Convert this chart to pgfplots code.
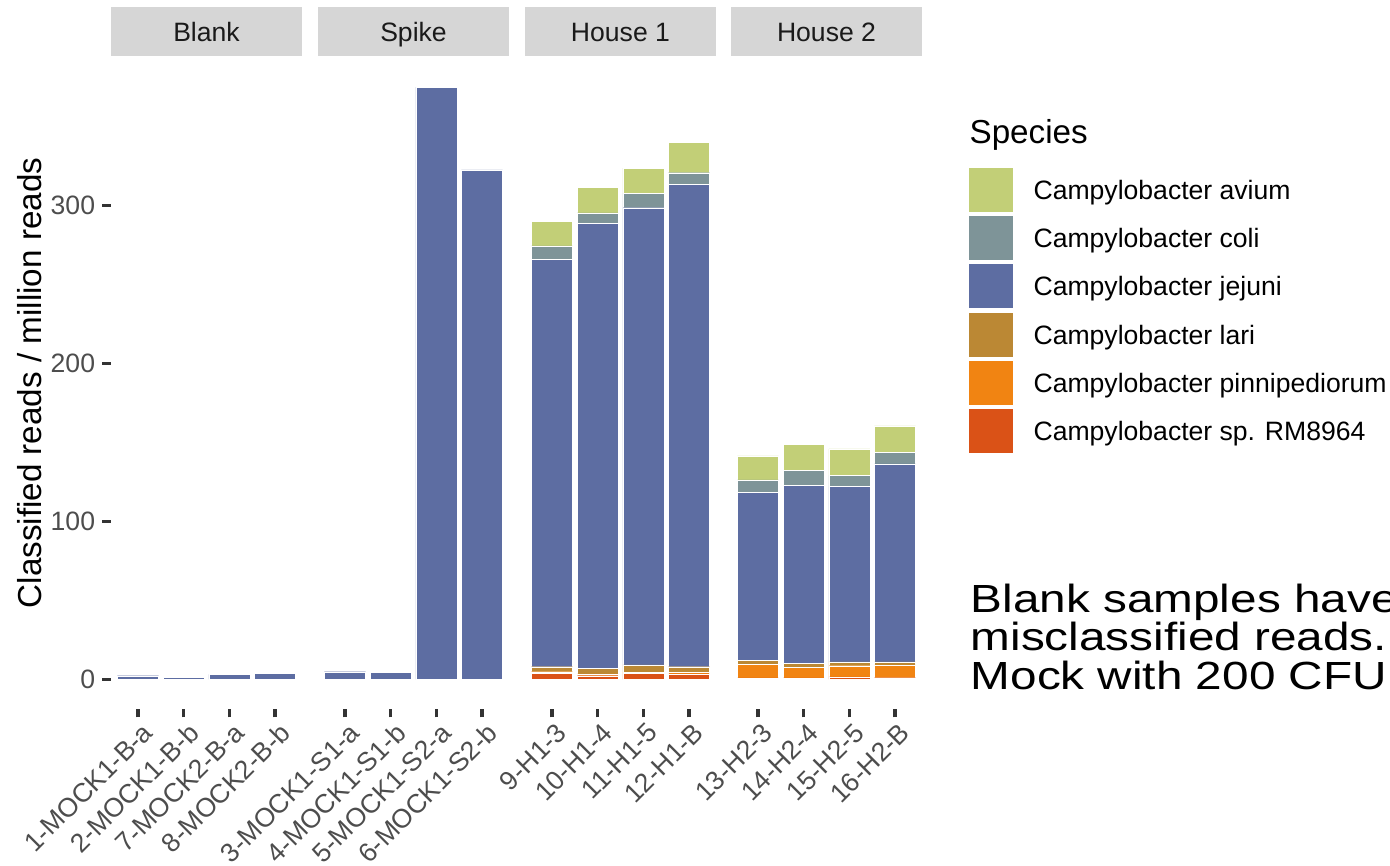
\documentclass[border=0pt]{standalone}
\usepackage{pgfplots}
\usepackage{pgfplotstable}
\pgfplotsset{compat=1.18}
\usepackage{fontspec}
\setmainfont{Liberation Sans}

\definecolor{avium}{HTML}{C2CF77}
\definecolor{coli}{HTML}{7E9498}
\definecolor{jejuni}{HTML}{5D6DA2}
\definecolor{lari}{HTML}{BB8834}
\definecolor{pinni}{HTML}{F18412}
\definecolor{rmsp}{HTML}{DA5217}
\definecolor{stripgray}{HTML}{D6D6D6}
\definecolor{grey30}{HTML}{4D4D4D}
\definecolor{grey20}{HTML}{333333}
\definecolor{grey10}{HTML}{1A1A1A}

% Blank panel
\pgfplotstableread{
x jejuni
1 2.4
2 1.2
3 3.3
4 3.7
}\blanktab
% Spike panel
\pgfplotstableread{
x lari jejuni
1 0.3 4.6
2 0.0 4.5
3 0.0 375.0
4 0.0 322.5
}\spiketab
% House 1 panel
\pgfplotstableread{
x rmsp pinni lari jejuni coli avium
1 3.7 1.2 3.2 257.9 8.4 15.6
2 2.4 1.1 3.6 281.6 6.6 16.2
3 3.7 1.0 4.5 289.4 9.1 16.0
4 3.5 1.1 3.5 305.5 7.2 19.2
}\houseonetab
% House 2 panel
\pgfplotstableread{
x rmsp pinni lari jejuni coli avium
1 1.0 8.4 2.7 106.4 7.8 15.3
2 1.0 6.5 2.9 112.5 9.5 16.6
3 1.6 7.1 2.4 111.2 6.9 16.8
4 1.1 8.1 1.9 125.3 7.4 16.8
}\housetwotab

\pgfplotsset{
  panel/.style={
    anchor=south west,
    width=63.51pt, height=215.79pt, scale only axis,
    xmin=0.4, xmax=4.6, ymin=-18.75, ymax=393.75,
    ybar stacked, bar width=0.9,
    axis line style={draw=none},
    tick align=outside, tick pos=left,
    major tick length=2.75pt,
    major tick style={draw=grey20, line width=1.07pt},
    xtick={1,2,3,4},
    xticklabel style={rotate=45, anchor=north east, inner sep=0pt, yshift=-1.5pt,
      font=\fontsize{8.8}{10}\selectfont, text=grey30},
    yticklabel style={inner sep=0pt, xshift=-2.2pt,
      font=\fontsize{8.8}{10}\selectfont, text=grey30},
    /pgf/number format/assume math mode=true,
    clip=false,
  },
  bar/.style={fill=#1, draw=white, line width=0.1pt},
}

\newcommand{\fs}[1]{\fontsize{#1}{#1}\selectfont}

\begin{document}
\begin{tikzpicture}
\path[use as bounding box, clip] (0,0) rectangle (460.26pt,286.75pt);

\begin{axis}[panel, at={(36.62pt,51.95pt)},
  ytick={0,100,200,300},
  xticklabels={1-MOCK1-B-a,2-MOCK1-B-b,7-MOCK2-B-a,8-MOCK2-B-b}]
  \addplot[bar=jejuni] table[x=x, y=jejuni] {\blanktab};
\end{axis}

\begin{axis}[panel, at={(105.16pt,51.95pt)}, ytick=\empty,
  xticklabels={3-MOCK1-S1-a,4-MOCK1-S1-b,5-MOCK1-S2-a,6-MOCK1-S2-b}]
  \addplot[bar=lari] table[x=x, y=lari] {\spiketab};
  \addplot[bar=jejuni] table[x=x, y=jejuni] {\spiketab};
\end{axis}

\begin{axis}[panel, at={(173.70pt,51.95pt)}, ytick=\empty,
  xticklabels={9-H1-3,10-H1-4,11-H1-5,12-H1-B}]
  \addplot[bar=rmsp] table[x=x, y=rmsp] {\houseonetab};
  \addplot[bar=pinni] table[x=x, y=pinni] {\houseonetab};
  \addplot[bar=lari] table[x=x, y=lari] {\houseonetab};
  \addplot[bar=jejuni] table[x=x, y=jejuni] {\houseonetab};
  \addplot[bar=coli] table[x=x, y=coli] {\houseonetab};
  \addplot[bar=avium] table[x=x, y=avium] {\houseonetab};
\end{axis}

\begin{axis}[panel, at={(241.92pt,51.95pt)}, ytick=\empty,
  xticklabels={13-H2-3,14-H2-4,15-H2-5,16-H2-B}]
  \addplot[bar=rmsp] table[x=x, y=rmsp] {\housetwotab};
  \addplot[bar=pinni] table[x=x, y=pinni] {\housetwotab};
  \addplot[bar=lari] table[x=x, y=lari] {\housetwotab};
  \addplot[bar=jejuni] table[x=x, y=jejuni] {\housetwotab};
  \addplot[bar=coli] table[x=x, y=coli] {\housetwotab};
  \addplot[bar=avium] table[x=x, y=avium] {\housetwotab};
\end{axis}

% facet strips
\foreach \L/\lab in {36.62/Blank,105.16/Spike,173.70/House 1,241.92/House 2}{
  \fill[stripgray] (\L pt,268.21pt) rectangle ++(63.51pt,16.22pt);
  \node[anchor=base, text=grey10, font=\fs{8.8}, inner sep=0pt] at (\L pt+31.755pt,273.17pt) {\lab};
}

% y axis title
\node[rotate=90, font=\fs{11}, inner sep=0pt] at (9.93pt,159.93pt) {Classified reads / million reads};

% legend
\node[anchor=west, font=\fs{11}, inner sep=0pt] at (320.85pt,242.05pt) {Species};
\foreach \yc/\col/\lab in {
  223.84/avium/Campylobacter avium,
  207.88/coli/Campylobacter coli,
  191.92/jejuni/Campylobacter jejuni,
  175.96/lari/Campylobacter lari,
  160.00/pinni/Campylobacter pinnipediorum,
  144.04/rmsp/Campylobacter sp. RM8964}{
  \fill[\col] (320.85pt,\yc pt-7.285pt) rectangle ++(14.57pt,14.57pt);
  \node[anchor=base west, font=\fs{8.8}, inner sep=0pt] at (342.05pt,\yc pt-3.15pt) {\lab};
}

% annotation (three lines, explicit baselines)
\foreach \yb/\txt in {84.10/Blank samples have, 71.19/misclassified reads., 58.28/Mock with 200 CFU}{
  \node[anchor=base west, font=\fs{13}, inner sep=0pt, xscale=1.215, transform shape] at (321.19pt,\yb pt) {\txt};
}
\end{tikzpicture}
\end{document}
